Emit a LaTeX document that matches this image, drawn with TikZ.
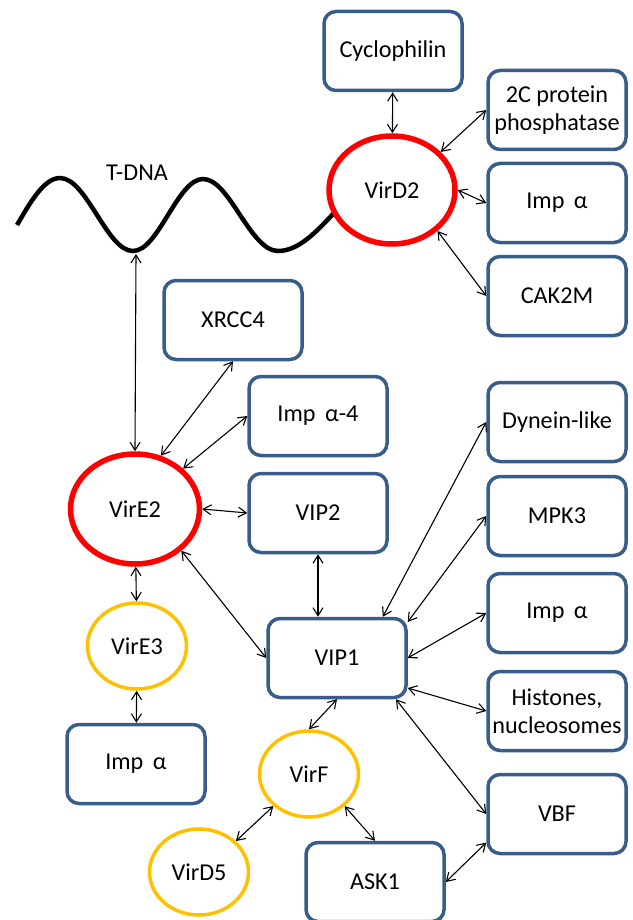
\documentclass[tikz,border=0pt]{standalone}
\usepackage{fontspec}
\setmainfont{Carlito}
\usetikzlibrary{shapes.geometric,arrows.meta}

\definecolor{boxblue}{HTML}{385D8A}
\definecolor{virred}{HTML}{FF0000}
\definecolor{viryellow}{HTML}{FFC000}

\tikzset{
  prot/.style={draw=boxblue, line width=3.5pt, rounded corners=12pt, fill=white,
    minimum width=138pt, minimum height=79pt, inner sep=2pt, align=center},
  virR/.style={ellipse, draw=virred, line width=5.5pt, fill=white, inner sep=0pt},
  virY/.style={ellipse, draw=viryellow, line width=3.5pt, fill=white, inner sep=0pt,
    minimum width=99pt, minimum height=86pt},
  link/.style={>={Straight Barb[length=8pt,width=10pt]}, <->, line width=1.1pt},
}

\begin{document}
\begin{tikzpicture}[x=1pt,y=-1pt,font=\fontsize{24.2}{28}\selectfont]
\useasboundingbox (0,0) rectangle (632,920);

% T-DNA strand
\draw[line width=4.5pt] (17,225) sin (60,178) cos (97,215) sin (133,251) cos (168,215)
  sin (203,179) cos (240,215) sin (278,251) cos (334,213);
\node (tdnalabel) at (137,173) {T-DNA};
\coordinate (tdna) at (136,254);

% VirD2 and its partners
\node[virR, minimum width=126pt, minimum height=108pt] (virD2) at (392,190) {VirD2};
\node[prot] (cyclo) at (393,51) {Cyclophilin};

\foreach \nm/\yy/\txt in {pp2c/110/{2C protein\\phosphatase}, impD/203/{Imp~\,α},
    cak/296/{CAK2M}, dyn/422/{Dynein-like}, mpk/516/{MPK3}, impV/613/{Imp~\,α},
    hist/711/{Histones,\\nucleosomes}, vbf/814/{VBF}} {
        \node[prot] (\nm) at (557,\yy) {\txt};
}

% VirE2 side
\node[prot] (xrcc) at (233,320) {XRCC4};
\node[prot] (impa4) at (318,416) {Imp~\,α-4};
\node[prot] (vip2) at (318,513) {VIP2};
\node[virR, minimum width=129pt, minimum height=110pt] (virE2) at (135,509) {VirE2};
\node[virY] (virE3) at (137,646) {VirE3};
\node[prot] (impE) at (136,764) {Imp~\,α};
\node[prot] (vip1) at (337,658) {VIP1};
\node[virY] (virF) at (309,774) {VirF};
\node[virY] (virD5) at (199,872) {VirD5};
\node[prot] (ask) at (375,882) {ASK1};

% interactions
\draw[link] (cyclo) -- (virD2);
\draw[link] (pp2c.west) -- (virD2.38);
\draw[link] (impD.west) -- (virD2.east);
\draw[link] (cak.west) -- (virD2.-42);
\draw[link] (tdna) -- (virE2.north);
\draw[link] (xrcc.south) -- (virE2.64);
\draw[link] (impa4.west) -- (virE2.40);
\draw[link] (vip2.west) -- (virE2.east);
\draw[link] (vip1.west) -- (virE2.-42);
\draw[link] (virE2) -- (virE3);
\draw[link] (virE3) -- (impE);
\draw[link] (vip2.south) -- (vip2.south |- vip1.north);
\draw[link] (dyn.west) -- (vip1.42);
\draw[link] (mpk.west) -- (vip1.27);
\draw[link] (impV.west) -- (vip1.east);
\draw[link] (hist.west) -- (vip1.-23);
\draw[link] (vbf.west) -- (vip1.-35);
\draw[link] (vip1.south) -- (virF.north);
\draw[link] (virF.222) -- (virD5.40);
\draw[link] (virF.-42) -- (ask.north);
\draw[link] (ask.east) -- (vbf.202);
\end{tikzpicture}
\end{document}
